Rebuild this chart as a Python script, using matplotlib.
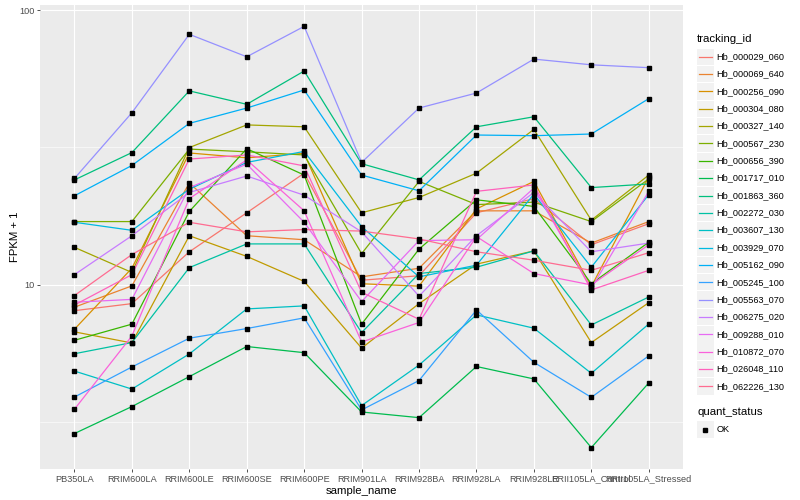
import numpy as np
import matplotlib
matplotlib.use("Agg")
import matplotlib.pyplot as plt
from matplotlib.lines import Line2D
from matplotlib.patches import Rectangle

plt.rcParams['font.family'] = ['Liberation Sans', 'DejaVu Sans']

samples = ["PB350LA", "RRIM600LA", "RRIM600LE", "RRIM600SE", "RRIM600PE",
           "RRIM901LA", "RRIM928BA", "RRIM928LA", "RRIM928LE",
           "RRII105LA_Control", "RRII105LA_Stressed"]

tracking_ids = ["Hb_000029_060", "Hb_000069_640", "Hb_000256_090", "Hb_000304_080",
                "Hb_000327_140", "Hb_000567_230", "Hb_000656_390", "Hb_001717_010",
                "Hb_001863_360", "Hb_002272_030", "Hb_003607_130", "Hb_003929_070",
                "Hb_005162_090", "Hb_005245_100", "Hb_005563_070", "Hb_006275_020",
                "Hb_009288_010", "Hb_010872_070", "Hb_026048_110", "Hb_062226_130"]

colors = ["#F8766D", "#EA8331", "#D89000", "#C09B00", "#A3A500", "#7CAE00", "#39B600",
          "#00BB4E", "#00BF7D", "#00C1A3", "#00BFC4", "#00BAE0", "#00B0F6", "#35A2FF",
          "#9590FF", "#C77CFF", "#E76BF3", "#FA62DB", "#FF62BC", "#FF6C91"]

Hb_000029_060 = [8.06, 8.55, 13.2, 18.3, 25.5, 10.4, 10.8, 18.3, 20.6, 14.0, 16.7]
Hb_000069_640 = [8.3, 9.92, 23.5, 15.1, 14.6, 10.7, 11.5, 18.6, 18.6, 14.2, 17.0]
Hb_000256_090 = [6.9, 11.5, 30.2, 29.0, 30.1, 10.1, 9.9, 18.9, 23.8, 9.86, 24.7]
Hb_000304_080 = [6.75, 6.15, 15.1, 12.7, 10.3, 5.89, 8.55, 11.9, 13.3, 6.17, 8.62]
Hb_000327_140 = [13.7, 11.1, 31.6, 38.2, 37.6, 18.3, 20.8, 25.5, 36.8, 17.2, 25.1]
Hb_000567_230 = [17.0, 17.0, 31.2, 30.5, 29.7, 13.0, 23.8, 19.6, 20.0, 17.0, 24.3]
Hb_000656_390 = [6.29, 7.2, 18.5, 31.3, 25.1, 7.2, 13.5, 20.4, 19.3, 10.1, 14.3]
Hb_001717_010 = [2.88, 3.61, 4.64, 5.97, 5.67, 3.45, 3.29, 5.05, 4.55, 2.56, 4.40]
Hb_001863_360 = [24.1, 30.3, 50.8, 45.4, 60.0, 27.6, 24.1, 37.6, 40.9, 22.6, 23.3]
Hb_002272_030 = [5.62, 6.17, 11.56, 14.1, 14.1, 6.71, 11.0, 11.6, 13.3, 7.15, 9.04]
Hb_003607_130 = [4.86, 4.18, 5.61, 8.18, 8.39, 3.64, 5.11, 7.78, 6.96, 4.77, 7.21]
Hb_003929_070 = [16.9, 15.8, 22.3, 27.9, 30.6, 16.3, 10.7, 11.8, 21.4, 11.6, 21.3]
Hb_005162_090 = [21.1, 27.2, 38.7, 44.0, 51.2, 25.1, 22.0, 35.1, 34.9, 35.4, 47.6]
Hb_005245_100 = [3.91, 5.03, 6.40, 6.94, 7.59, 3.51, 4.49, 8.11, 5.23, 3.90, 5.52]
Hb_005563_070 = [24.4, 42.3, 81.6, 67.6, 87.2, 27.9, 44.0, 49.9, 66.3, 63.2, 61.7]
Hb_006275_020 = [10.9, 15.1, 21.7, 24.9, 21.2, 15.6, 9.1, 15.1, 21.7, 13.2, 14.2]
Hb_009288_010 = [8.65, 8.86, 22.6, 27.5, 16.9, 8.7, 14.5, 14.6, 22.5, 9.72, 21.9]
Hb_010872_070 = [3.53, 6.52, 20.6, 28.5, 18.6, 6.2, 7.3, 15.0, 11.0, 10.0, 14.0]
Hb_026048_110 = [8.45, 10.9, 28.7, 29.7, 27.1, 9.4, 7.5, 21.9, 23.1, 9.59, 11.3]
Hb_062226_130 = [9.15, 12.9, 16.9, 15.6, 15.9, 15.7, 14.7, 13.2, 12.3, 11.3, 13.1]

series = [Hb_000029_060, Hb_000069_640, Hb_000256_090, Hb_000304_080, Hb_000327_140,
          Hb_000567_230, Hb_000656_390, Hb_001717_010, Hb_001863_360, Hb_002272_030,
          Hb_003607_130, Hb_003929_070, Hb_005162_090, Hb_005245_100, Hb_005563_070,
          Hb_006275_020, Hb_009288_010, Hb_010872_070, Hb_026048_110, Hb_062226_130]

fig = plt.figure(figsize=(8, 5), dpi=100)
ax = fig.add_axes([0.05, 0.062, 0.804, 0.928])
ax.set_facecolor("#EBEBEB")
for s in ax.spines.values():
    s.set_visible(False)

x = np.arange(len(samples))
for vals, c in zip(series, colors):
    ax.plot(x, vals, color=c, lw=0.9, zorder=3)
for vals in series:
    ax.plot(x, vals, ls='none', marker='s', ms=2.2, color='black', zorder=4)

ax.set_yscale('log')
ax.set_ylim(2.14, 104.3)
ax.set_xlim(-0.6, len(samples) - 1 + 0.6)
ax.set_yticks([10, 100])
ax.set_yticklabels(["10", "100"])
ax.set_yticks([10 ** 0.5, 10 ** 1.5], minor=True)
ax.set_yticklabels([], minor=True)
ax.set_xticks(x)
ax.set_xticklabels(samples)
ax.tick_params(axis='both', which='major', length=2.0, width=0.6, color='#333333',
               labelcolor='#4D4D4D', labelsize=6.6, pad=2)
ax.tick_params(axis='y', which='minor', length=0)
ax.grid(True, which='major', color='white', lw=0.8, zorder=0)
ax.grid(True, which='minor', axis='y', color='white', lw=0.4, zorder=0)
ax.set_axisbelow(True)
ax.set_xlabel("sample_name", fontsize=8.2, color='black', labelpad=2)
ax.set_ylabel("FPKM + 1", fontsize=8.2, color='black', labelpad=-0.5)

# legend (manual, ggplot style)
W, H = 800.0, 500.0
def fx(px):
    return px / W
def fy(py):
    return 1 - py / H

fig.text(fx(697), fy(39), "tracking_id", fontsize=8.2, va='center', ha='left')
step = 17.35
y0 = 56.7
for i, (tid, c) in enumerate(zip(tracking_ids, colors)):
    yc = y0 + i * step
    fig.patches.append(Rectangle((fx(697), fy(yc + 8.2)), 16.5 / W, 16.4 / H,
                                 transform=fig.transFigure, facecolor='#F2F2F2',
                                 edgecolor='none'))
    fig.lines.append(Line2D([fx(698.5), fx(712)], [fy(yc), fy(yc)], color=c, lw=0.9,
                            transform=fig.transFigure))
    fig.text(fx(716.5), fy(yc), tid, fontsize=6.6, va='center', ha='left', color='black')

fig.text(fx(697), fy(412), "quant_status", fontsize=8.2, va='center', ha='left')
yc = 429.5
fig.patches.append(Rectangle((fx(697), fy(yc + 8.2)), 16.5 / W, 16.4 / H,
                             transform=fig.transFigure, facecolor='#F2F2F2', edgecolor='none'))
fig.lines.append(Line2D([fx(705.2)], [fy(yc)], marker='s', ms=2.2, color='black', ls='none',
                        transform=fig.transFigure))
fig.text(fx(716.5), fy(yc), "OK", fontsize=6.6, va='center', ha='left')

fig.savefig("out.png", dpi=100, facecolor='white')
